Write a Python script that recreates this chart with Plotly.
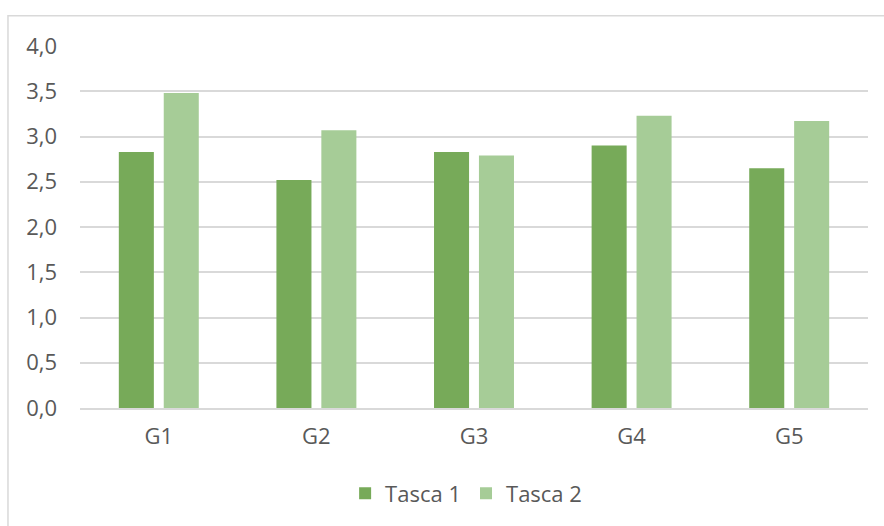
import plotly.graph_objects as go

categories = ["G1", "G2", "G3", "G4", "G5"]
tasca1 = [2.83, 2.52, 2.83, 2.90, 2.65]
tasca2 = [3.48, 3.07, 2.79, 3.23, 3.17]
series_names = ["Tasca 1", "Tasca 2"]
y_ticks = [0, 0.5, 1.0, 1.5, 2.0, 2.5, 3.0, 3.5, 4.0]
y_tick_labels = [f"{v:.1f}".replace(".", ",") for v in y_ticks]

font_family = "Open Sans, Lato, sans-serif"
text_color = "#595959"
grid_color = "#D9D9D9"
fs = 22

fig = go.Figure()
fig.add_trace(go.Bar(x=categories, y=tasca1, name=series_names[0],
                     marker=dict(color="#77AA59", line=dict(width=0))))
fig.add_trace(go.Bar(x=categories, y=tasca2, name=series_names[1],
                     marker=dict(color="#A6CC97", line=dict(width=0))))

fig.update_layout(
    width=884, height=526,
    margin=dict(l=80, r=16, t=46, b=116),
    paper_bgcolor="white", plot_bgcolor="white",
    barmode="group", bargap=0.43, bargroupgap=0.22,
    font=dict(family=font_family, size=fs, color=text_color),
    showlegend=True,
    legend=dict(orientation="h", x=0.49, xanchor="center", y=-0.236, yanchor="middle",
                font=dict(size=fs, color=text_color), itemwidth=30,
                bgcolor="rgba(0,0,0,0)"),
    xaxis=dict(showgrid=False, showline=True, linecolor=grid_color, linewidth=1.5,
               ticks="", tickfont=dict(size=fs, color=text_color),
               ticklabelstandoff=8, zeroline=False),
    yaxis=dict(range=[0, 4.0], tickvals=y_ticks, ticktext=y_tick_labels,
               showgrid=True, gridcolor=grid_color, gridwidth=1.5,
               zeroline=False, showline=False, ticks="",
               tickfont=dict(size=fs, color=text_color), ticklabelstandoff=22),
)

fig.add_shape(type="rect", xref="paper", yref="paper",
              x0=-0.0914, x1=1.1, y0=-0.4, y1=1.0838,
              line=dict(color=grid_color, width=1.5), fillcolor="rgba(0,0,0,0)",
              layer="below")

fig.write_html("out.html")
